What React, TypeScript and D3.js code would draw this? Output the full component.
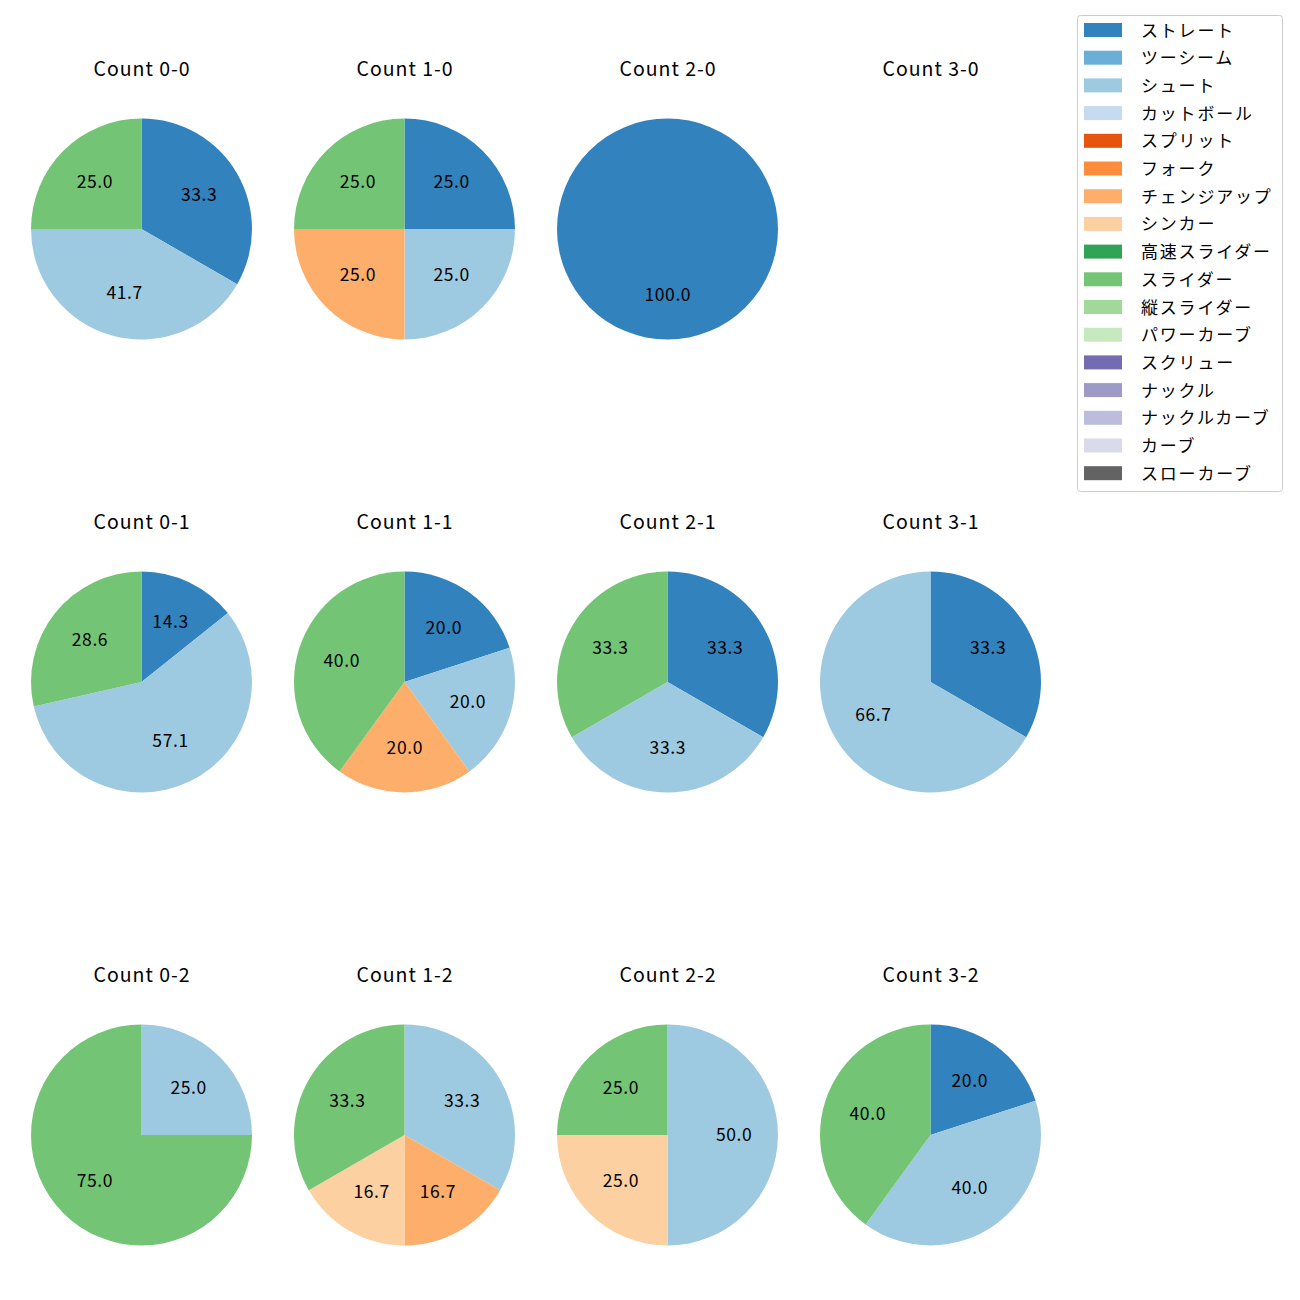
import React from "react";
import * as d3 from "d3";

const pitchTypes = ["ストレート","ツーシーム","シュート","カットボール","スプリット","フォーク","チェンジアップ","シンカー","高速スライダー","スライダー","縦スライダー","パワーカーブ","スクリュー","ナックル","ナックルカーブ","カーブ","スローカーブ"];
const pitchColors = ["#3182bd","#6baed6","#9ecae1","#c6dbef","#e6550d","#fd8d3c","#fdae6b","#fdd0a2","#31a354","#74c476","#a1d99b","#c7e9c0","#756bb1","#9e9ac8","#bcbddc","#dadaeb","#636363"];
const countLabels = ["Count 0-0","Count 1-0","Count 2-0","Count 3-0","Count 0-1","Count 1-1","Count 2-1","Count 3-1","Count 0-2","Count 1-2","Count 2-2","Count 3-2"];

// pitch counts per count situation (order as countLabels)
const straightVals =   [4,1,1,0,1,1,1,1,0,0,0,1];
const shootVals =      [5,1,0,0,4,1,1,2,1,2,2,2];
const changeupVals =   [0,1,0,0,0,1,0,0,0,1,0,0];
const sinkerVals =     [0,0,0,0,0,0,0,0,0,1,1,0];
const sliderVals =     [3,1,0,0,2,2,1,0,3,2,1,2];

const seriesByType: Record<string, number[]> = {
  "ストレート": straightVals,
  "シュート": shootVals,
  "チェンジアップ": changeupVals,
  "シンカー": sinkerVals,
  "スライダー": sliderVals,
};

const FONT = "'Noto Sans CJK JP', 'Noto Sans', sans-serif";

export default function App() {
  const W = 1300, H = 1300;
  const colX = [141.5, 404.5, 667.5, 930.5];
  const rowY = [229, 682, 1135];
  const R = 110.5;
  const pie = d3.pie<{ name: string; v: number; c: string }>().sort(null).value(d => d.v);
  const arc = d3.arc<any>().innerRadius(0).outerRadius(R);
  const labelArc = d3.arc<any>().innerRadius(R * 0.6).outerRadius(R * 0.6);

  return (
    <svg width={W} height={H} style={{ display: "block", margin: -8 }} fontFamily={FONT}>
      <rect width={W} height={H} fill="#fff" />
      {countLabels.map((lab, i) => {
        const cx = colX[i % 4], cy = rowY[Math.floor(i / 4)];
        const data = pitchTypes.map((name, k) => ({ name, v: seriesByType[name] ? seriesByType[name][i] : 0, c: pitchColors[k] })).filter(d => d.v > 0);
        const total = d3.sum(data, d => d.v);
        const arcs = total > 0 ? pie(data) : [];
        return (
          <g key={lab}>
            <text x={cx + 0.5} y={cy - 162} textAnchor="middle" dominantBaseline="central" fontSize={19.5} letterSpacing={1} fill="#000">{lab}</text>
            <g transform={`translate(${cx},${cy})`}>
              {arcs.map(a => (
                <path key={a.data.name} d={arc(a) as string} fill={a.data.c} />
              ))}
              {arcs.map(a => {
                const [lx, ly] = labelArc.centroid(a);
                return (
                  <text key={a.data.name + "l"} x={lx + 0.3} y={ly - 2} textAnchor="middle" dominantBaseline="central" fontSize={17.5} letterSpacing={0.6} fill="#000">
                    {((a.data.v / total) * 100).toFixed(1)}
                  </text>
                );
              })}
            </g>
          </g>
        );
      })}
      <g>
        <rect x={1077.5} y={15.5} width={205} height={476} rx={3} fill="#fff" stroke="#cccccc" strokeWidth={1} />
        {pitchTypes.map((name, k) => {
          const y = 30 + k * 27.7;
          return (
            <g key={name}>
              <rect x={1084} y={y - 7} width={38} height={14} fill={pitchColors[k]} />
              <text x={1141} y={y - 1} dominantBaseline="central" fontSize={17} letterSpacing={1.8} fill="#000">{name}</text>
            </g>
          );
        })}
      </g>
    </svg>
  );
}
